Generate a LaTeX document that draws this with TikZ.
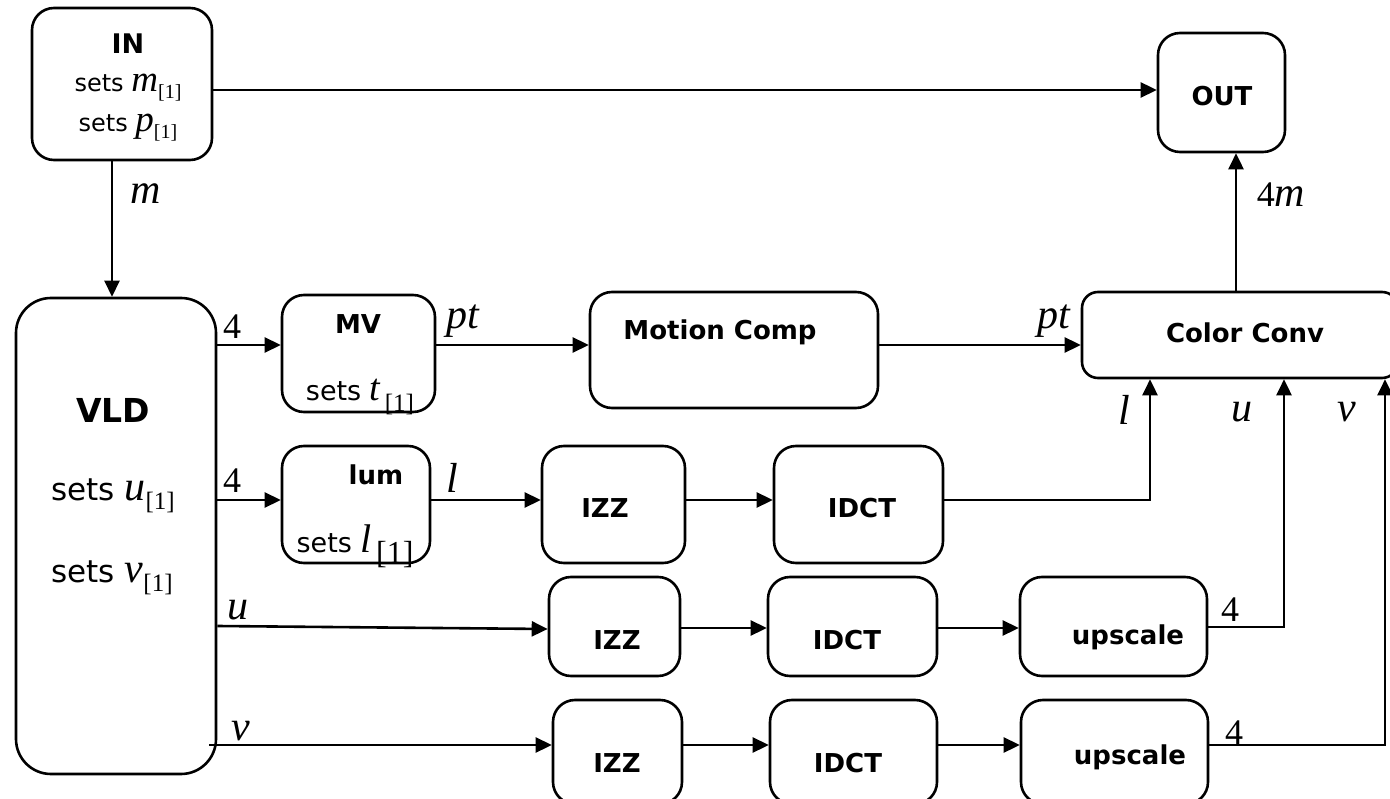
\documentclass[tikz,border=0pt]{standalone}
\usepackage{fontspec}
\setmainfont{DejaVu Sans}
\newfontfamily\ser{Liberation Serif}
\usetikzlibrary{arrows.meta}
\newcommand{\vr}[1]{{\ser\itshape #1}}
\newcommand{\sbs}[3]{\raisebox{#2}{\ser\fontsize{#1}{#1}\selectfont #3}}
\begin{document}
\begin{tikzpicture}[x=1pt,y=-1pt,
  box/.style={draw, line width=2.6pt, rounded corners=22pt, inner sep=0pt},
  arr/.style={line width=2.6pt, -{Triangle[length=16pt,width=15pt]}},
  lab/.style={font=\ser\itshape\fontsize{42}{42}\selectfont, inner sep=0pt},
  num/.style={font=\ser\fontsize{36}{36}\selectfont, inner sep=0pt},
  ttl/.style={font=\bfseries\fontsize{26}{26}\selectfont, inner sep=0pt},
  txt/.style={inner sep=0pt}
]
\useasboundingbox (0,0) rectangle (1390,799);

% boxes
\node[box, minimum width=180, minimum height=152] (in) at (122,84) {};
\node[box, minimum width=127, minimum height=119] (out) at (1221.5,92.5) {};
\node[box, rounded corners=35pt, minimum width=200, minimum height=476] (vld) at (116,536) {};
\node[box, minimum width=153, minimum height=117] (mv) at (358.5,353.5) {};
\node[box, minimum width=288, minimum height=116] (mc) at (734,350) {};
\node[box, rounded corners=16pt, minimum width=316, minimum height=86] (cc) at (1240,335) {};
\node[box, minimum width=148, minimum height=117] (lum) at (356,504.5) {};
\node[box, minimum width=143, minimum height=117] (izz1) at (613.5,504.5) {};
\node[box, minimum width=169, minimum height=117] (idct1) at (858.5,504.5) {};
\node[box, minimum width=131, minimum height=99] (izz2) at (614.5,626.5) {};
\node[box, minimum width=169, minimum height=99] (idct2) at (852.5,626.5) {};
\node[box, minimum width=187, minimum height=99] (up1) at (1113.5,626.5) {};
\node[box, minimum width=129, minimum height=104] (izz3) at (617.5,752) {};
\node[box, minimum width=167, minimum height=104] (idct3) at (853.5,752) {};
\node[box, minimum width=187, minimum height=104] (up2) at (1114.5,752) {};

% box texts
\node[ttl, font=\bfseries\fontsize{27}{27}\selectfont] (tin) at (128,44) {IN};
\node[txt, font=\fontsize{24}{24}\selectfont] (tin1) at (128,88) {sets \vr{\fontsize{37}{37}\selectfont m}\sbs{20}{-7pt}{[1]}};
\node[txt, font=\fontsize{24}{24}\selectfont] (tin2) at (128,128) {sets \vr{\fontsize{37}{37}\selectfont p}\sbs{20}{-7pt}{[1]}};
\node[ttl] (tout) at (1222,96) {OUT};
\node[ttl, font=\bfseries\fontsize{33}{33}\selectfont] (tvld) at (113,410) {VLD};
\node[txt, font=\fontsize{31}{31}\selectfont] (tvld1) at (113,496) {sets \vr{\fontsize{42}{42}\selectfont u}\sbs{25}{-9pt}{[1]}};
\node[txt, font=\fontsize{31}{31}\selectfont] (tvld2) at (112,578) {sets \vr{\fontsize{42}{42}\selectfont v}\sbs{25}{-9pt}{[1]}};
\node[ttl] (tmv) at (358,324) {MV};
\node[txt, font=\fontsize{27}{27}\selectfont] (tmv1) at (360,397) {sets \vr{\fontsize{38}{38}\selectfont t}\,\sbs{25}{-11pt}{[1]}};
\node[ttl] (tlum) at (376,475) {lum};
\node[txt, font=\fontsize{27}{27}\selectfont] (tlum1) at (355,546) {sets \vr{\fontsize{40}{40}\selectfont l}\,\sbs{32}{-11pt}{[1]}};
\node[ttl] at (720,332) (tmc) {Motion Comp};
\node[ttl] at (1245,333) (tcc) {Color Conv};
\node[ttl] at (605,508) (tizz1) {IZZ};
\node[ttl] at (862,508) (tidct1) {IDCT};
\node[ttl] at (617,640) (tizz2) {IZZ};
\node[ttl] at (847,640) (tidct2) {IDCT};
\node[ttl] at (1128,637) (tup1) {upscale};
\node[ttl] at (617,763) (tizz3) {IZZ};
\node[ttl] at (848,763) (tidct3) {IDCT};
\node[ttl] at (1130,757) (tup2) {upscale};

% connectors
\draw[arr] ([yshift=-6pt]in.east) -- ([yshift=-6pt]in.east -| out.west);
\draw[arr] ([xshift=-10pt]in.south) -- ([xshift=-10pt]in.south |- vld.north);
\draw[arr] (vld.east |- 0,345) -- (mv.west |- 0,345);
\draw[arr] (mv.east |- 0,345) -- (mc.west |- 0,345);
\draw[arr] (mc.east |- 0,345) -- (cc.west |- 0,345);
\draw[arr] (cc.north -| 1236,0) -- (out.south -| 1236,0);
\draw[arr] (vld.east |- 0,500) -- (lum.west |- 0,500);
\draw[arr] (lum.east |- 0,500) -- (izz1.west |- 0,500);
\draw[arr] (izz1.east |- 0,500) -- (idct1.west |- 0,500);
\draw[arr] (idct1.east |- 0,500) -| (cc.south -| 1150,0);
\draw[arr] (vld.east |- 0,626) -- (izz2.west |- 0,629);
\draw[arr] (izz2.east |- 0,628) -- (idct2.west |- 0,628);
\draw[arr] (idct2.east |- 0,628) -- (up1.west |- 0,628);
\draw[arr] (up1.east |- 0,627) -| (cc.south -| 1284,0);
\draw[arr] ([xshift=-8pt]vld.east |- 0,745) -- (izz3.west |- 0,745);
\draw[arr] (izz3.east |- 0,745) -- (idct3.west |- 0,745);
\draw[arr] (idct3.east |- 0,745) -- (up2.west |- 0,745);
\draw[arr] (up2.east |- 0,745) -| (cc.south -| 1385,0);

% labels
\node[lab] (lm) at (146,194) {m};
\node[num] (l4a) at (232,327) {4};
\node[lab] (lpt1) at (463,321) {pt};
\node[lab] (lpt2) at (1054,321) {pt};
\node[num] (l4m) at (1281,195) {4\vr{\fontsize{42}{42}\selectfont m}};
\node[num] (l4b) at (232,481) {4};
\node[lab] (ll1) at (452,478) {l};
\node[lab] (ll2) at (1124,410) {l};
\node[lab] (lu2) at (1242,412) {u};
\node[lab] (lv2) at (1347,412) {v};
\node[lab] (lu1) at (238,610) {u};
\node[lab] (lv1) at (241,731) {v};
\node[num] (l4c) at (1230,610) {4};
\node[num] (l4d) at (1234,733) {4};
\end{tikzpicture}
\end{document}
